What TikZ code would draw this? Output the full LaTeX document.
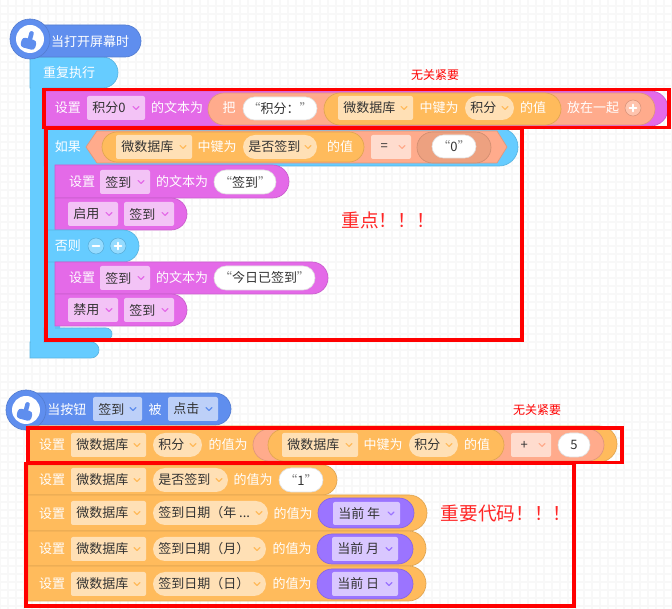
\documentclass[tikz,border=0pt]{standalone}
\usepackage{fontspec}
\setmainfont{Noto Sans CJK SC}
\definecolor{cPur}{HTML}{E46AE8}\definecolor{cPurD}{HTML}{F3C3F6}
\definecolor{cSal}{HTML}{FFAB8C}\definecolor{cSalD}{HTML}{FFDCCE}\definecolor{cSalDk}{HTML}{EDA180}
\definecolor{cOr}{HTML}{FFBB5C}\definecolor{cOrD}{HTML}{FFE0B5}
\definecolor{cBlue}{HTML}{66CCFF}\definecolor{cHat}{HTML}{5F8EEE}\definecolor{cHatD}{HTML}{BDD0F8}
\definecolor{cVio}{HTML}{9B74FF}\definecolor{cVioD}{HTML}{D9C7FF}
\definecolor{cTxt}{HTML}{333333}\definecolor{cGrid}{HTML}{F8F8F8}
\newcount\nodeno
\tikzset{
  lab/.style={inner sep=0pt,font=\fontsize{9.75}{12}\selectfont},
  redbox/.style={draw=red,line width=2.6pt,fill=none},
  chev/.style={line width=0.8pt,line cap=round,line join=round},
}
% right-rounded block: x1 y1 x2 y2 colour
\newcommand\blk[5]{\pgfmathsetmacro\rr{(#4-#2)/2*0.75}%
  \draw[fill=#5,draw=#5!88!black,line width=0.5pt] (#1,#2) [rounded corners=\rr pt] -- (#3,#2) -- (#3,#4) [sharp corners] -- (#1,#4) -- cycle;}
% full pill: x1 y1 x2 y2 colour
\newcommand\pil[5]{\pgfmathsetmacro\rr{(#4-#2)/2*0.75}%
  \draw[fill=#5,draw=#5!88!black,line width=0.5pt,rounded corners=\rr pt] (#1,#2) rectangle (#3,#4);}
% text centred: x y text colour
\newcommand\tx[4]{\global\advance\nodeno by 1
  \node[lab,text=#4] (n\the\nodeno) at (#1,#2) {#3};}
% chevron at x y colour
\newcommand\chv[3]{\draw[chev,#3] (#1-3,#2-1.5) -- (#1,#2+1.5) -- (#1+3,#2-1.5);}
% dropdown: x1 y1 x2 y2 fill chevroncolour text shape-radius(px)
\newcommand\dd[8]{\pgfmathsetmacro\rr{#8*0.75}\pgfmathsetmacro\ym{(#2+#4)/2}\pgfmathsetmacro\xc{#3-9}%
  \fill[#5,rounded corners=\rr pt] (#1,#2) rectangle (#3,#4);
  \global\advance\nodeno by 1
  \node[lab,text=cTxt,anchor=west] (n\the\nodeno) at (#1+5,\ym) {#7};
  \chv{\xc}{\ym}{#6}}
\newcommand\whitep[5]{\pil{#1}{#2}{#3}{#4}{white}\pgfmathsetmacro\ym{(#2+#4)/2}\pgfmathsetmacro\xm{(#1+#3)/2}\tx{\xm}{\ym}{#5}{cTxt}}
\newcommand\qq[1]{{\color{gray}“}#1{\color{gray}”}}
\newcommand\hand[2]{\begin{scope}[shift={(#1,#2)},rotate=-15]
  \fill[cHat,rounded corners=1.5pt] (-2.5,-9) rectangle (2.0,3);
  \fill[cHat,rounded corners=2.5pt] (-8,-1) rectangle (7,9);
  \end{scope}}
\newcommand\circbtn[4]{\fill[#3!70!white,draw=#3!85!black,line width=0.4pt] (#1,#2) circle[radius=6pt];
  \draw[white,line width=1.4pt,line cap=round] (#1-3.5,#2) -- (#1+3.5,#2);
  \ifnum#4=1 \draw[white,line width=1.4pt,line cap=round] (#1,#2-3.5) -- (#1,#2+3.5);\fi}
\begin{document}
\begin{tikzpicture}[x=0.75pt,y=-0.75pt]
\useasboundingbox (0,0) rectangle (672,609);
\fill[white] (0,0) rectangle (672,609);
\foreach \g in {0,8,...,672}{\draw[cGrid,line width=0.9pt] (\g,0) -- (\g,609);}
\foreach \g in {6,14,...,609}{\draw[cGrid,line width=0.9pt] (0,\g) -- (672,\g);}

% ---------- first script: outer loop
\fill[cBlue,rounded corners=2pt] (30,60) rectangle (60,358);
\blk{30}{342}{99}{358}{cBlue}
\blk{30}{57}{118}{88}{cBlue}
\fill[cBlue] (31,58) rectangle (43,356);
\tx{69}{73}{重复执行}{white}
% hat
\blk{24}{25}{141}{57}{cHat}
\fill[cHat,draw=cHat!88!black,line width=0.5pt] (30,39) circle[radius=15pt];
\fill[white] (30,39) circle[radius=10.5pt];
\hand{30}{40}
\tx{90}{42}{当打开屏幕时}{white}

% if block
\fill[cBlue] (44,166) rectangle (55,340);
\blk{44}{128}{518}{166}{cBlue}
\blk{44}{328}{112}{340}{cBlue}
\fill[cBlue] (44,160) rectangle (55,335);
\tx{68}{147}{如果}{white}
\draw[fill=cSal,draw=cSal!88!black,line width=0.5pt] (97,131) -- (497,131) -- (507,147) -- (497,163) -- (97,163) -- (86,147) -- cycle;
\pil{102}{132}{364}{162}{cOr}
\dd{116}{135}{192}{159}{cOrD}{cOr}{微数据库}{2}
\tx{217}{147}{中键为}{white}
\dd{243}{135}{317}{159}{cOrD}{cOr}{是否签到}{12}
\tx{340}{147}{的值}{white}
\dd{371}{135}{411}{159}{cSalD}{cSal}{\,\,=}{2}
\pil{417}{132}{491}{163}{cSalDk}
\whitep{432}{135}{476}{158}{\qq{0}}

% row in then
\blk{55}{165}{289}{198}{cPur}
\tx{82}{182}{设置}{white}
\dd{100}{170}{150}{194}{cPurD}{cPur}{签到}{2}
\tx{182}{182}{的文本为}{white}
\whitep{214}{170}{276}{194}{\qq{签到}}
\blk{55}{198}{187}{230}{cPur}
\dd{68}{202}{118}{226}{cPurD}{cPur}{启用}{2}
\dd{124}{202}{174}{226}{cPurD}{cPur}{签到}{2}
% else
\blk{46}{230}{139}{262}{cBlue}
\tx{68}{246}{否则}{white}
\circbtn{96}{246}{cBlue}{0}
\circbtn{118}{246}{cBlue}{1}
\blk{55}{262}{328}{294}{cPur}
\tx{82}{278}{设置}{white}
\dd{100}{266}{150}{290}{cPurD}{cPur}{签到}{2}
\tx{182}{278}{的文本为}{white}
\whitep{214}{266}{315}{290}{\qq{今日已签到}}
\blk{55}{294}{187}{326}{cPur}
\dd{68}{298}{118}{322}{cPurD}{cPur}{禁用}{2}
\dd{124}{298}{174}{322}{cPurD}{cPur}{签到}{2}

% top set block
\blk{44}{91}{668}{126}{cPur}
\tx{68}{108}{设置}{white}
\dd{87}{96}{145}{120}{cPurD}{cPur}{积分0}{2}
\tx{177}{108}{的文本为}{white}
\pil{208}{93}{655}{125}{cSal}
\tx{229}{108}{把}{white}
\whitep{243}{97}{317}{120}{\qq{积分：}}
\pil{324}{93}{561}{125}{cOr}
\dd{338}{96}{413}{120}{cOrD}{cOr}{微数据库}{2}
\tx{439}{108}{中键为}{white}
\dd{465}{96}{514}{120}{cOrD}{cOr}{积分}{12}
\tx{533}{108}{的值}{white}
\tx{593}{108}{放在一起}{white}
\circbtn{633}{108}{cSal}{1}

% ---------- second script
\blk{20}{393}{231}{425}{cHat}
\fill[cHat,draw=cHat!88!black,line width=0.5pt] (26,410) circle[radius=15pt];
\fill[white] (26,410) circle[radius=10.5pt];
\hand{26}{411}
\tx{67}{410}{当按钮}{white}
\dd{93}{397}{142}{421}{cHatD}{cHat}{签到}{2}
\tx{155}{410}{被}{white}
\dd{168}{397}{218}{421}{cHatD}{cHat}{点击}{2}

\blk{28}{426}{617}{462}{cOr}
\tx{52}{445}{设置}{white}
\dd{71}{433}{146}{457}{cOrD}{cOr}{微数据库}{2}
\dd{153}{433}{202}{457}{cOrD}{cOr}{积分}{12}
\tx{228}{445}{的值为}{white}
\pil{253}{429}{604}{461}{cSal}
\pil{268}{429}{504}{461}{cOr}
\dd{282}{433}{358}{457}{cOrD}{cOr}{微数据库}{2}
\tx{383}{445}{中键为}{white}
\dd{409}{433}{458}{457}{cOrD}{cOr}{积分}{12}
\tx{477}{445}{的值}{white}
\dd{511}{433}{551}{457}{cSalD}{cSal}{\,\,+}{2}
\whitep{558}{433}{590}{457}{5}

\blk{28}{465}{337}{495}{cOr}
\tx{52}{480}{设置}{white}
\dd{71}{468}{146}{492}{cOrD}{cOr}{微数据库}{2}
\dd{153}{468}{228}{492}{cOrD}{cOr}{是否签到}{12}
\tx{253}{480}{的值为}{white}
\whitep{279}{468}{323}{492}{\qq{1}}

\blk{28}{495}{427}{531}{cOr}
\tx{52}{514}{设置}{white}
\dd{71}{501}{146}{525}{cOrD}{cOr}{微数据库}{2}
\dd{153}{501}{268}{525}{cOrD}{cOr}{签到日期（年 ...}{12}
\tx{293}{514}{的值为}{white}
\pil{318}{498}{414}{528}{cVio}
\dd{333}{502}{400}{525}{cVioD}{cVio}{当前 年}{2}

\blk{28}{531}{426}{566}{cOr}
\tx{52}{549}{设置}{white}
\dd{71}{537}{146}{561}{cOrD}{cOr}{微数据库}{2}
\dd{153}{537}{266}{561}{cOrD}{cOr}{签到日期（月）}{12}
\tx{292}{549}{的值为}{white}
\pil{317}{534}{413}{564}{cVio}
\dd{332}{537}{398}{561}{cVioD}{cVio}{当前 月}{2}

\blk{28}{566}{426}{601}{cOr}
\tx{52}{584}{设置}{white}
\dd{71}{572}{146}{596}{cOrD}{cOr}{微数据库}{2}
\dd{153}{572}{266}{596}{cOrD}{cOr}{签到日期（日）}{12}
\tx{292}{584}{的值为}{white}
\pil{317}{569}{413}{599}{cVio}
\dd{332}{572}{398}{596}{cVioD}{cVio}{当前 日}{2}

% ---------- red highlights
\draw[redbox] (44,89.5) rectangle (669,127.5);
\draw[redbox] (46,128) rectangle (522,340);
\draw[redbox] (28,428) rectangle (622,462.5);
\draw[redbox] (26,463.5) rectangle (574,606);
\global\advance\nodeno by 1
\node[inner sep=0pt,text=red,font=\fontsize{9}{11}\selectfont] (n\the\nodeno) at (435,75) {无关紧要};
\global\advance\nodeno by 1
\node[inner sep=0pt,text=red,font=\fontsize{9}{11}\selectfont] (n\the\nodeno) at (537,410) {无关紧要};
\global\advance\nodeno by 1
\node[inner sep=0pt,text=red!85!white,font=\fontsize{14}{16}\selectfont] (n\the\nodeno) at (388,220) {重点！！！};
\global\advance\nodeno by 1
\node[inner sep=0pt,text=red!85!white,font=\fontsize{14}{16}\selectfont] (n\the\nodeno) at (506,513) {重要代码！！！};
\end{tikzpicture}
\end{document}
